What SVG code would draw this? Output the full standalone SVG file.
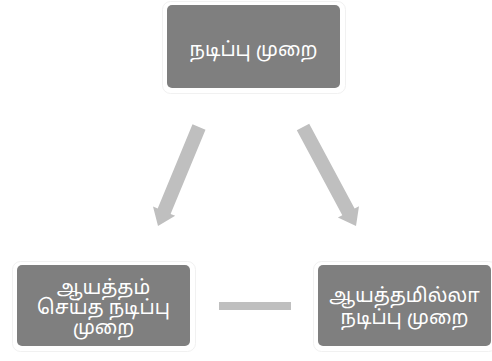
<svg xmlns="http://www.w3.org/2000/svg" width="492" height="361" viewBox="0 0 492 361">
<style>
.box{fill:#7f7f7f;}
.halo{fill:none;stroke:#f1f1f1;stroke-width:1;}
.lbl{fill:#ffffff;font-family:"Noto Sans Tamil","Lohit Tamil","Noto Sans","DejaVu Sans",sans-serif;font-size:19.5px;text-anchor:middle;}
.arr{fill:#bfbfbf;}
</style>
<rect width="492" height="361" fill="#ffffff"/>
<g id="connectors">
<polygon class="arr" points="192.5,124.3 205.5,129.7 170.6,213.9 175.2,215.8 158,226 153,206.6 157.7,208.5"/>
<polygon class="arr" points="296.8,130.3 309.2,123.7 354.6,208.6 359,206.2 356,226 337.9,217.6 342.3,215.2"/>
<rect class="arr" x="219" y="302" width="72" height="8"/>
</g>
<g id="top">
<rect class="halo" x="162.5" y="1.5" width="183" height="92" rx="8"/>
<rect class="box" x="167" y="5" width="173" height="83" rx="5"/>
<text class="lbl" x="253.5" y="56">நடிப்பு முறை</text>
</g>
<g id="left">
<rect class="halo" x="12.5" y="261.5" width="183" height="90" rx="8"/>
<rect class="box" x="17" y="265" width="173" height="81" rx="5"/>
<text class="lbl" x="103.5" y="294">ஆயத்தம்</text>
<text class="lbl" x="103.5" y="314">செய்த நடிப்பு</text>
<text class="lbl" x="103.5" y="334">முறை</text>
</g>
<g id="right">
<rect class="halo" x="313.5" y="261.5" width="183" height="90" rx="8"/>
<rect class="box" x="318" y="265" width="173" height="81" rx="5"/>
<text class="lbl" x="404.5" y="302">ஆயத்தமில்லா</text>
<text class="lbl" x="404.5" y="324">நடிப்பு முறை</text>
</g>
</svg>
